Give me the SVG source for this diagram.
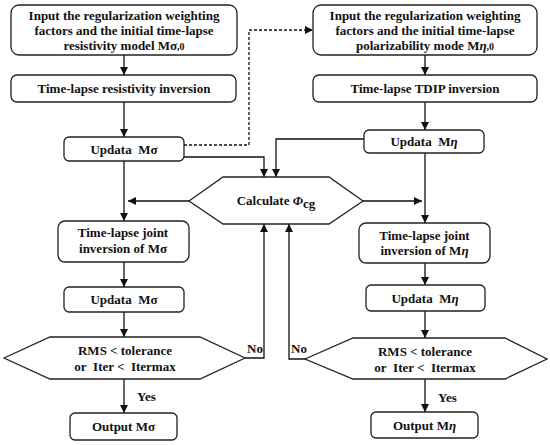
<svg xmlns="http://www.w3.org/2000/svg" width="550" height="445" viewBox="0 0 550 445">
<defs>
<marker id="ah" viewBox="0 0 10 10" refX="10" refY="5" markerWidth="9" markerHeight="8" markerUnits="userSpaceOnUse" orient="auto">
<path d="M0,0 L10,5 L0,10 Z" fill="#111"/>
</marker>
</defs>
<style>
.box{fill:#fff;stroke:#222;stroke-width:1.3}
.t{font-family:"Liberation Serif","Times New Roman",serif;font-weight:bold;font-size:13px;fill:#111;text-anchor:middle}
.l{font-family:"Liberation Serif","Times New Roman",serif;font-weight:bold;font-size:13px;fill:#111}
.c{fill:none;stroke:#111;stroke-width:1.3}
.a{marker-end:url(#ah)}
.d{stroke-dasharray:3,2}
.s{font-size:10px}
</style>
<rect width="550" height="445" fill="#fff"/>
<g id="connectors">
<path class="c a" d="M124,55 V75"/>
<path class="c a" d="M124,102 V137"/>
<path class="c a d" d="M184,145 H249 V30 H313"/>
<path class="c a" d="M184,157 H264 V177"/>
<path class="c a" d="M425,55 V75"/>
<path class="c a" d="M425,102 V130"/>
<path class="c a" d="M364,139 H276 V177"/>
<path class="c a" d="M124,161 V221"/>
<path class="c a" d="M189,201 H128"/>
<path class="c a" d="M363,201 H422"/>
<path class="c a" d="M425,153 V223"/>
<path class="c a" d="M124,262 V287"/>
<path class="c a" d="M425,263 V285"/>
<path class="c a" d="M124,312 V337"/>
<path class="c a" d="M425,311 V338"/>
<path class="c a" d="M124,379 V413"/>
<path class="c a" d="M425,379 V412"/>
<path class="c a" d="M245,358 H264 V224"/>
<path class="c a" d="M305,359 H289 V224"/>
<text class="l" x="247" y="353">No</text>
<text class="l" x="291" y="353">No</text>
<text class="l" x="137" y="401">Yes</text>
<text class="l" x="438" y="402">Yes</text>
</g>
<g id="input-sigma">
<rect class="box" x="11" y="5" width="226" height="50" rx="8"/>
<text class="t" x="124" y="20">Input the regularization weighting</text>
<text class="t" x="124" y="35">factors and the initial time-lapse</text>
<text class="t" x="124" y="50">resistivity model Mσ<tspan class="s">,0</tspan></text>
</g>
<g id="inv-sigma">
<rect class="box" x="11" y="75" width="225" height="27" rx="6"/>
<text class="t" x="124" y="93">Time-lapse resistivity inversion</text>
</g>
<g id="upd-sigma1">
<rect class="box" x="64" y="137" width="120" height="24" rx="5"/>
<text class="t" x="124" y="154">Updata&#160; Mσ</text>
</g>
<g id="input-eta">
<rect class="box" x="313" y="5" width="224" height="50" rx="8"/>
<text class="t" x="425" y="20">Input the regularization weighting</text>
<text class="t" x="425" y="35">factors and the initial time-lapse</text>
<text class="t" x="425" y="50">polarizability mode M<tspan font-style="italic">η</tspan><tspan class="s">,0</tspan></text>
</g>
<g id="inv-eta">
<rect class="box" x="313" y="75" width="224" height="27" rx="6"/>
<text class="t" x="425" y="93">Time-lapse TDIP inversion</text>
</g>
<g id="upd-eta1">
<rect class="box" x="364" y="130" width="120" height="23" rx="5"/>
<text class="t" x="424" y="146">Updata&#160; M<tspan font-style="italic">η</tspan></text>
</g>
<g id="calc">
<polygon class="box" points="189,201 223,177 329,177 363,201 329,224 223,224"/>
<text class="t" x="276" y="205">Calculate <tspan font-style="italic">Φ</tspan><tspan dy="3">cg</tspan></text>
</g>
<g id="joint-sigma">
<rect class="box" x="58" y="221" width="131" height="41" rx="7"/>
<text class="t" x="123" y="237">Time-lapse joint</text>
<text class="t" x="123" y="253">inversion of Mσ</text>
</g>
<g id="joint-eta">
<rect class="box" x="359" y="223" width="131" height="40" rx="7"/>
<text class="t" x="424.5" y="240">Time-lapse joint</text>
<text class="t" x="424.5" y="255">inversion of M<tspan font-style="italic">η</tspan></text>
</g>
<g id="upd-sigma2">
<rect class="box" x="64" y="287" width="120" height="25" rx="5"/>
<text class="t" x="124" y="304">Updata&#160; Mσ</text>
</g>
<g id="upd-eta2">
<rect class="box" x="366" y="285" width="119" height="26" rx="5"/>
<text class="t" x="425" y="303">Updata&#160; M<tspan font-style="italic">η</tspan></text>
</g>
<g id="check-sigma">
<polygon class="box" points="4,358 50,337 200,337 245,358 200,379 50,379"/>
<text class="t" x="125" y="355">RMS &lt; tolerance</text>
<text class="t" x="125" y="371">or&#160; Iter &lt;&#160; Itermax</text>
</g>
<g id="check-eta">
<polygon class="box" points="305,359 353,338 505,338 547,359 505,379 353,379"/>
<text class="t" x="425" y="356">RMS &lt; tolerance</text>
<text class="t" x="425" y="372">or&#160; Iter &lt;&#160; Itermax</text>
</g>
<g id="out-sigma">
<rect class="box" x="70" y="413" width="107" height="27" rx="5"/>
<text class="t" x="123.5" y="431">Output Mσ</text>
</g>
<g id="out-eta">
<rect class="box" x="371" y="412" width="107" height="26" rx="5"/>
<text class="t" x="424.5" y="430">Output M<tspan font-style="italic">η</tspan></text>
</g>
</svg>
